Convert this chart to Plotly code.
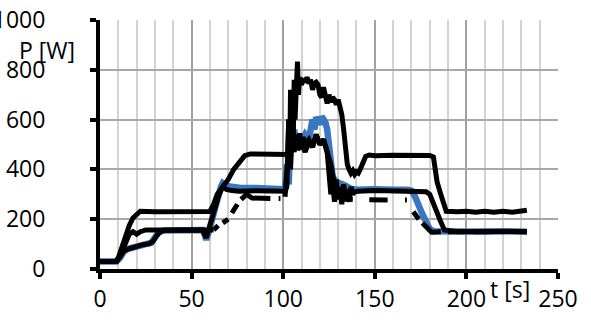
import plotly.graph_objects as go

# ---- data (t in s, P in W) ----
s1_t = [0, 8.5, 10, 12, 14, 16, 18, 20, 22, 30, 40, 50, 60, 62, 64, 66, 68, 70, 73, 76, 79, 82, 90, 100, 102.5,
        103, 103.5, 104, 104.5, 105, 105.5, 106, 106.5, 107, 107.8, 108.3, 109, 110, 111, 112, 113, 114, 115, 116,
        117, 118, 119, 120, 121, 122, 123, 124, 125, 126, 127, 128, 129, 130, 131, 132, 133, 134, 135, 136, 137,
        138, 139, 140, 141, 142, 143, 144, 145, 147, 150, 160, 170, 180, 182, 183, 184, 186, 188, 189, 195, 200,
        205, 210, 215, 220, 225, 230, 233]
s1_p = [30, 30, 45, 90, 140, 175, 205, 222, 232, 230, 232, 230, 231, 260, 300, 320, 340, 360, 400, 430, 455, 462,
        460, 462, 460, 600, 420, 720, 480, 650, 520, 760, 600, 700, 833, 700, 770, 740, 765, 750, 770, 745, 760, 720,
        745, 750, 740, 700, 690, 730, 700, 665, 700, 670, 690, 680, 660, 680, 650, 620, 560, 480, 420, 400, 385,
        395, 380, 390, 385, 400, 420, 440, 452, 458, 455, 457, 455, 456, 450, 400, 350, 300, 250, 232, 230, 232,
        228, 232, 228, 232, 228, 232, 236]

s2_t = [0, 9, 11, 13, 15, 18, 21, 25, 28, 30, 32, 35, 40, 50, 56, 57, 58, 59, 60, 62, 64, 66, 67, 69, 72, 76, 85,
        95, 101, 102, 103, 104, 105, 106, 107, 108, 110, 112, 114, 116, 117, 118, 120, 121, 123, 124, 125, 126, 127,
        129, 131, 134, 137, 140, 150, 155, 160, 168, 170, 172, 174, 176, 178, 180, 182, 190, 200, 210, 220, 233]
s2_p = [30, 30, 45, 70, 80, 88, 95, 100, 105, 125, 148, 155, 157, 158, 157, 140, 118, 140, 170, 230, 290, 330, 345,
        335, 330, 326, 325, 322, 320, 420, 340, 540, 470, 560, 500, 540, 510, 540, 520, 600, 560, 610, 580, 612,
        590, 560, 480, 400, 370, 350, 345, 335, 322, 318, 320, 322, 318, 318, 315, 290, 250, 220, 190, 160, 152,
        150, 152, 150, 152, 150]

s3_t = [0, 9, 11, 13, 16, 19, 23, 27, 29, 31, 33, 36, 45, 56, 57, 58, 59, 61, 63, 65, 67, 69, 72, 76, 85, 95, 101,
        102, 103, 104, 105, 106, 107, 108, 109, 110, 111, 112, 114, 116, 118, 120, 122, 124, 125, 126, 127, 128,
        129, 130, 131, 132, 133, 134, 135, 136, 137, 138, 139, 141, 150, 160, 170, 178, 180, 182, 184, 186, 188,
        195, 210, 233]
s3_p = [30, 30, 50, 72, 82, 90, 97, 102, 112, 135, 150, 156, 157, 157, 140, 125, 150, 200, 250, 300, 330, 320, 315,
        312, 314, 313, 312, 330, 600, 400, 560, 470, 540, 500, 545, 490, 530, 500, 520, 490, 540, 500, 520, 470,
        380, 300, 340, 270, 360, 280, 330, 260, 340, 290, 320, 270, 330, 300, 310, 312, 315, 313, 312, 310, 300,
        260, 220, 190, 157, 150, 152, 150]

s4a_t = [0, 9, 12, 14, 16, 18, 20, 22, 25, 40, 55, 62]
s4a_p = [30, 30, 70, 110, 140, 150, 140, 150, 157, 157, 157, 157]

# sparse (gapped) series: None marks a gap in the record
s4b_t = [62, 63, 64.5, None, 67, 70, None, 72, 75, None, 77, 80, 83, 90, 93, None, 97.5, 98.5, None, 101, 103, 104,
         106, 108, 110, 112, 114, 116, 118, 120, 122, 124, 126, 128, 130, 132, 135, 138, None, 147, 152, 157, None,
         166.5, 167.5, None, 171, 174, None, 176, 178, 181, 186, None, 190, 200, None, 204, 215, None, 219, 233]
s4b_p = [157, 165, 175, None, 185, 200, None, 225, 260, None, 280, 300, 285, 284, 283, None, 283, 283, None, 290,
         480, 600, 520, 480, 500, 470, 510, 490, 540, 500, 520, 470, 420, 340, 300, 280, 282, 280, None, 278, 277,
         277, None, 277, 277, None, 230, 200, None, 185, 170, 148, 150, None, 150, 151, None, 150, 151, None, 150,
         151]

x_ticks = [0, 50, 100, 150, 200, 250]
y_ticks = [0, 200, 400, 600, 800, 1000]

FONT = "Open Sans"
FS = 23
BLUE = "#3a76c2"
LW = 5

fig = go.Figure()
fig.add_trace(go.Scatter(x=s2_t, y=s2_p, mode="lines", line=dict(color=BLUE, width=LW + 1.5), showlegend=False))
fig.add_trace(go.Scatter(x=s3_t, y=s3_p, mode="lines", line=dict(color="black", width=LW), showlegend=False))
fig.add_trace(go.Scatter(x=s4a_t, y=s4a_p, mode="lines", line=dict(color="black", width=LW), showlegend=False))
fig.add_trace(go.Scatter(x=s4b_t, y=s4b_p, mode="lines", line=dict(color="black", width=LW), connectgaps=False,
                         showlegend=False))
fig.add_trace(go.Scatter(x=s1_t, y=s1_p, mode="lines", line=dict(color="black", width=LW), showlegend=False))

fig.update_layout(
    width=591, height=322,
    margin=dict(l=100, r=33, t=20, b=53, pad=0),
    paper_bgcolor="white", plot_bgcolor="white",
    font=dict(family=FONT, size=FS, color="black"),
    xaxis=dict(range=[0, 250], tickvals=x_ticks, ticktext=[str(v) for v in x_ticks], automargin=False,
               showline=True, linecolor="black", linewidth=4,
               ticks="outside", ticklen=6, tickwidth=4, tickcolor="black",
               showgrid=True, gridcolor="#a0a0a0", gridwidth=2, zeroline=False,
               minor=dict(dtick=10, tick0=0, showgrid=True, gridcolor="#d3d3d3", gridwidth=2, ticks=""),
               ticklabelstandoff=0, tickfont=dict(family=FONT, size=FS, color="black")),
    yaxis=dict(range=[0, 1000], tickvals=y_ticks, ticktext=[str(v) for v in y_ticks], automargin=False,
               showline=True, linecolor="black", linewidth=4,
               ticks="outside", ticklen=6, tickwidth=4, tickcolor="black",
               showgrid=True, gridcolor="#a8a8a8", gridwidth=2, zeroline=False,
               ticklabelstandoff=40, tickfont=dict(family=FONT, size=FS, color="black")),
    annotations=[
        dict(text="P [W]", xref="paper", yref="paper", x=-0.05, y=0.88, xanchor="right", yanchor="middle",
             showarrow=False, font=dict(family=FONT, size=FS, color="black")),
        dict(text="t [s]", xref="paper", yref="paper", x=0.895, y=-0.08, xanchor="center", yanchor="middle",
             showarrow=False, font=dict(family=FONT, size=FS, color="black")),
    ],
)

fig.write_html("out.html")
